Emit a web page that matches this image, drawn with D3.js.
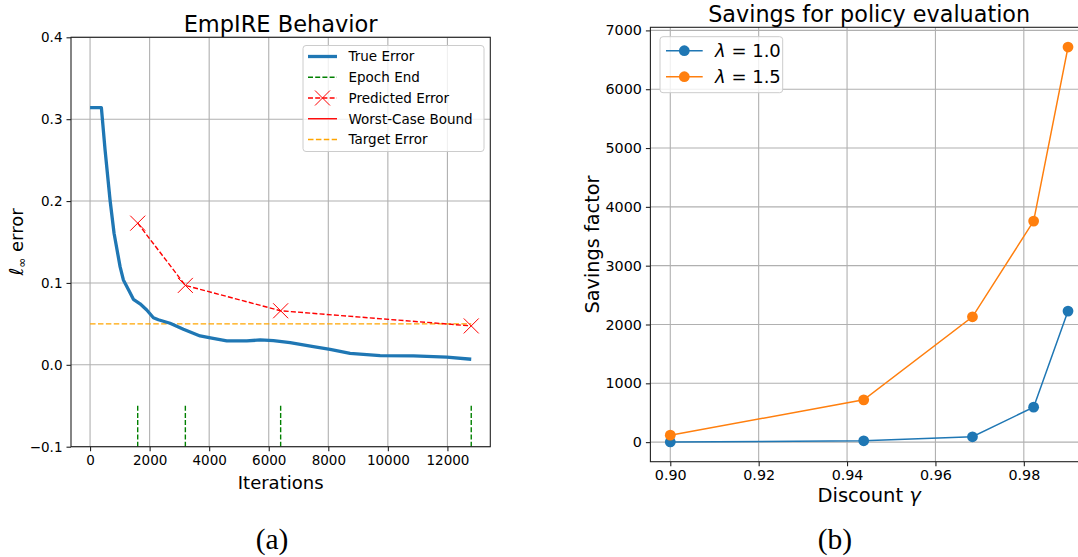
<!DOCTYPE html>
<html>
<head>
<meta charset="utf-8">
<script src="https://cdn.jsdelivr.net/npm/d3@7"></script>
<style>
  html, body { margin: 0; padding: 0; background: #fff; }
  svg { display: block; }
  text { fill: #000; }
</style>
</head>
<body>
<svg id="chart" width="1078" height="557" font-family="DejaVu Sans, sans-serif"></svg>
<script>
// ---------------- DATA ----------------
// Panel (a): EmpIRE behavior
const trueIter = [0, 380, 504, 672, 806, 1008, 1119, 1300, 1455, 1679, 1904, 2127, 2294, 2687, 3134, 3694, 4087, 4591, 5263, 5710, 6157, 6717, 7500, 8060, 8732, 9740, 10858, 11980, 12800];
const trueErr  = [0.314, 0.314, 0.2625, 0.201, 0.1607, 0.1199, 0.1037, 0.091, 0.080, 0.0745, 0.067, 0.0575, 0.055, 0.0508, 0.0435, 0.0353, 0.0325, 0.0292, 0.0292, 0.0304, 0.0296, 0.0271, 0.0222, 0.019, 0.0141, 0.0113, 0.0109, 0.0093, 0.0068];
const epochEnds = [1600, 3200, 6400, 12800];
const epochLineRange = [-0.1, -0.05];
const predictedErr = [0.173, 0.097, 0.066, 0.0475];
const targetErr = 0.05;
const targetIterRange = [0, 12800];
const legendA = ["True Error", "Epoch End", "Predicted Error", "Worst-Case Bound", "Target Error"];
const xTicksA = [0, 2000, 4000, 6000, 8000, 10000, 12000];
const yTicksA = [-0.1, 0.0, 0.1, 0.2, 0.3, 0.4];

// Panel (b): Savings for policy evaluation
const gammas = [0.9, 0.94377, 0.96838, 0.98222, 0.99];
const savingsL10 = [3, 23, 91, 595, 2228];
const savingsL15 = [118, 719, 2131, 3758, 6717];
const legendB = ["1.0", "1.5"];
const xTicksB = [0.90, 0.92, 0.94, 0.96, 0.98];
const yTicksB = [0, 1000, 2000, 3000, 4000, 5000, 6000, 7000];

// ---------------- STYLE ----------------
const C = { blue: "#1f77b4", orange: "#ff7f0e", red: "#ff0000", green: "#008000", gold: "#ffa500", grid: "#b0b0b0", spine: "#222" };
const SANS = "DejaVu Sans", SERIF = "Liberation Serif";

const svg = d3.select("#chart");

function drawFrame(g, x, y, xt, yt, xfmt, yfmt, tickFont) {
  const [x0, x1] = x.range(), [y0, y1] = y.range();
  g.append("g").selectAll("line").data(xt).join("line")
    .attr("x1", d => x(d)).attr("x2", d => x(d)).attr("y1", y0).attr("y2", y1)
    .attr("stroke", C.grid).attr("stroke-width", 1.1);
  g.append("g").selectAll("line").data(yt).join("line")
    .attr("y1", d => y(d)).attr("y2", d => y(d)).attr("x1", x0).attr("x2", x1)
    .attr("stroke", C.grid).attr("stroke-width", 1.1);
  const ax = g.append("g").attr("transform", `translate(0,${y0})`)
    .call(d3.axisBottom(x).tickValues(xt).tickFormat(xfmt).tickSize(4.5).tickPadding(4).tickSizeOuter(0));
  const ay = g.append("g").attr("transform", `translate(${x0},0)`)
    .call(d3.axisLeft(y).tickValues(yt).tickFormat(yfmt).tickSize(4.5).tickPadding(4).tickSizeOuter(0));
  [ax, ay].forEach(a => {
    a.attr("font-family", SANS).attr("font-size", tickFont);
    a.select(".domain").remove();
    a.selectAll(".tick line").attr("stroke", C.spine).attr("stroke-width", 1.1);
    a.selectAll(".tick text").attr("fill", "#000");
  });
  return { x0, x1, y0, y1 };
}

function drawSpines(g, b) {
  g.append("rect").attr("x", b.x0).attr("y", b.y1).attr("width", b.x1 - b.x0).attr("height", b.y0 - b.y1)
    .attr("fill", "none").attr("stroke", C.spine).attr("stroke-width", 1.1);
}

// ================= Panel (a) =================
{
  const xA = d3.scaleLinear().domain([-640, 13440]).range([71, 490.3]);
  const yA = d3.scaleLinear().domain([-0.1, 0.4]).range([446.7, 37.3]);
  const g = svg.append("g");
  const b = drawFrame(g, xA, yA, xTicksA, yTicksA, d3.format("d"), d3.format(".1f"), "13.5px");

  g.append("defs").append("clipPath").attr("id", "clipA").append("rect")
    .attr("x", b.x0).attr("y", b.y1).attr("width", b.x1 - b.x0).attr("height", b.y0 - b.y1);
  const p = g.append("g").attr("clip-path", "url(#clipA)");

  p.append("line").attr("x1", xA(targetIterRange[0])).attr("x2", xA(targetIterRange[1]))
    .attr("y1", yA(targetErr)).attr("y2", yA(targetErr))
    .attr("stroke", C.gold).attr("stroke-width", 1.4).attr("stroke-dasharray", "5.5,2.4");

  p.append("g").selectAll("line").data(epochEnds).join("line")
    .attr("x1", d => xA(d)).attr("x2", d => xA(d))
    .attr("y1", yA(epochLineRange[0])).attr("y2", yA(epochLineRange[1]))
    .attr("stroke", C.green).attr("stroke-width", 1.4).attr("stroke-dasharray", "5,2.2");

  const trueData = trueIter.map((d, i) => [d, trueErr[i]]);
  p.append("path").datum(trueData)
    .attr("d", d3.line().x(d => xA(d[0])).y(d => yA(d[1])))
    .attr("fill", "none").attr("stroke", C.blue).attr("stroke-width", 3.3).attr("stroke-linejoin", "round");

  const predData = epochEnds.map((d, i) => [d, predictedErr[i]]);
  p.append("path").datum(predData)
    .attr("d", d3.line().x(d => xA(d[0])).y(d => yA(d[1])))
    .attr("fill", "none").attr("stroke", C.red).attr("stroke-width", 1.4).attr("stroke-dasharray", "5,2.2");
  const crossSym = { draw(ctx) { const r = 7.5; ctx.moveTo(-r, -r); ctx.lineTo(r, r); ctx.moveTo(-r, r); ctx.lineTo(r, -r); } };
  p.append("g").selectAll("path").data(predData).join("path")
    .attr("transform", d => `translate(${xA(d[0])},${yA(d[1])})`)
    .attr("d", d3.symbol().type(crossSym)())
    .attr("fill", "none").attr("stroke", C.red).attr("stroke-width", 1.0);

  drawSpines(g, b);

  g.append("text").attr("x", (b.x0 + b.x1) / 2).attr("y", 32).attr("text-anchor", "middle")
    .attr("font-size", "22.5px").text("EmpIRE Behavior");
  g.append("text").attr("x", (b.x0 + b.x1) / 2).attr("y", 489).attr("text-anchor", "middle")
    .attr("font-size", "18px").text("Iterations");
  const yl = g.append("text").attr("transform", `translate(23,${(b.y0 + b.y1) / 2}) rotate(-90)`)
    .attr("text-anchor", "middle").attr("font-size", "18px");
  yl.append("tspan").attr("font-style", "italic").attr("font-size", "19px").text("ℓ");
  yl.append("tspan").attr("font-size", "12px").attr("dy", 3).text("∞");
  yl.append("tspan").attr("dy", -3).text(" error");

  g.append("text").attr("x", 272).attr("y", 549).attr("text-anchor", "middle")
    .attr("font-family", SERIF).attr("font-size", "29.5px").text("(a)");

  const lg = g.append("g");
  const lx = 303, ly = 45.5, lw = 181, lh = 106;
  lg.append("rect").attr("x", lx).attr("y", ly).attr("width", lw).attr("height", lh).attr("rx", 3)
    .attr("fill", "#fff").attr("fill-opacity", 0.8).attr("stroke", "#cccccc").attr("stroke-width", 1);
  const rowY = i => 56.5 + i * 20.75;
  const hx0 = 308, hx1 = 337, tx = 348.5;
  const styles = [
    { c: C.blue, w: 3.3, dash: null },
    { c: C.green, w: 1.4, dash: "5,2.2" },
    { c: C.red, w: 1.4, dash: "5,2.2", marker: true },
    { c: C.red, w: 1.4, dash: null },
    { c: C.gold, w: 1.4, dash: "5.5,2.4" }
  ];
  legendA.forEach((lab, i) => {
    const s = styles[i];
    const ln = lg.append("line").attr("x1", hx0).attr("x2", hx1).attr("y1", rowY(i)).attr("y2", rowY(i))
      .attr("stroke", s.c).attr("stroke-width", s.w);
    if (s.dash) ln.attr("stroke-dasharray", s.dash);
    if (s.marker) {
      lg.append("path").attr("transform", `translate(${(hx0 + hx1) / 2},${rowY(i)})`)
        .attr("d", d3.symbol().type(crossSym)())
        .attr("stroke", C.red).attr("stroke-width", 1.0).attr("fill", "none");
    }
    lg.append("text").attr("x", tx).attr("y", rowY(i)).attr("dy", "0.36em")
      .attr("font-size", "13.5px").text(lab);
  });
}

// ================= Panel (b) =================
{
  const allY = savingsL10.concat(savingsL15);
  const yMin = d3.min(allY), yMax = d3.max(allY), yPad = 0.05 * (yMax - yMin);
  const gMin = d3.min(gammas), gMax = d3.max(gammas), gPad = 0.05 * (gMax - gMin);
  const xB = d3.scaleLinear().domain([gMin - gPad, gMax + gPad]).range([650.4, 1087.9]);
  const yB = d3.scaleLinear().domain([yMin - yPad, yMax + yPad]).range([461.7, 27.3]);
  const g = svg.append("g");
  const b = drawFrame(g, xB, yB, xTicksB, yTicksB, d3.format(".2f"), d3.format("d"), "14.3px");

  g.append("defs").append("clipPath").attr("id", "clipB").append("rect")
    .attr("x", b.x0).attr("y", b.y1 - 8).attr("width", b.x1 - b.x0).attr("height", b.y0 - b.y1 + 16);
  const p = g.append("g").attr("clip-path", "url(#clipB)");

  const series = [
    { vals: savingsL10, color: C.blue },
    { vals: savingsL15, color: C.orange }
  ];
  series.forEach(s => {
    const data = gammas.map((d, i) => [d, s.vals[i]]);
    p.append("path").datum(data)
      .attr("d", d3.line().x(d => xB(d[0])).y(d => yB(d[1])))
      .attr("fill", "none").attr("stroke", s.color).attr("stroke-width", 1.5);
    p.append("g").selectAll("circle").data(data).join("circle")
      .attr("cx", d => xB(d[0])).attr("cy", d => yB(d[1])).attr("r", 5.4)
      .attr("fill", s.color);
  });

  drawSpines(g, b);

  g.append("text").attr("x", (b.x0 + b.x1) / 2).attr("y", 21.7).attr("text-anchor", "middle")
    .attr("font-size", "22.3px").text("Savings for policy evaluation");
  const xl = g.append("text").attr("x", (b.x0 + b.x1) / 2).attr("y", 502).attr("text-anchor", "middle")
    .attr("font-size", "19.5px");
  xl.append("tspan").text("Discount ");
  xl.append("tspan").attr("font-style", "italic").text("γ");
  g.append("text").attr("transform", `translate(598.5,${(b.y0 + b.y1) / 2}) rotate(-90)`)
    .attr("text-anchor", "middle").attr("font-size", "19.3px").text("Savings factor");

  g.append("text").attr("x", 835).attr("y", 549).attr("text-anchor", "middle")
    .attr("font-family", SERIF).attr("font-size", "29.5px").text("(b)");

  const lg = g.append("g");
  lg.append("rect").attr("x", 660).attr("y", 36.7).attr("width", 122.7).attr("height", 56).attr("rx", 3)
    .attr("fill", "#fff").attr("fill-opacity", 0.8).attr("stroke", "#cccccc").attr("stroke-width", 1);
  legendB.forEach((lab, i) => {
    const cy = 50.7 + i * 26;
    const col = series[i].color;
    lg.append("line").attr("x1", 666).attr("x2", 702.7).attr("y1", cy).attr("y2", cy)
      .attr("stroke", col).attr("stroke-width", 1.5);
    lg.append("circle").attr("cx", 684.3).attr("cy", cy).attr("r", 5.4).attr("fill", col);
    const t = lg.append("text").attr("x", 715).attr("y", cy).attr("dy", "0.36em").attr("font-size", "18px");
    t.append("tspan").attr("font-style", "italic").text("λ");
    t.append("tspan").text(" = " + lab);
  });
}
</script>
</body>
</html>
